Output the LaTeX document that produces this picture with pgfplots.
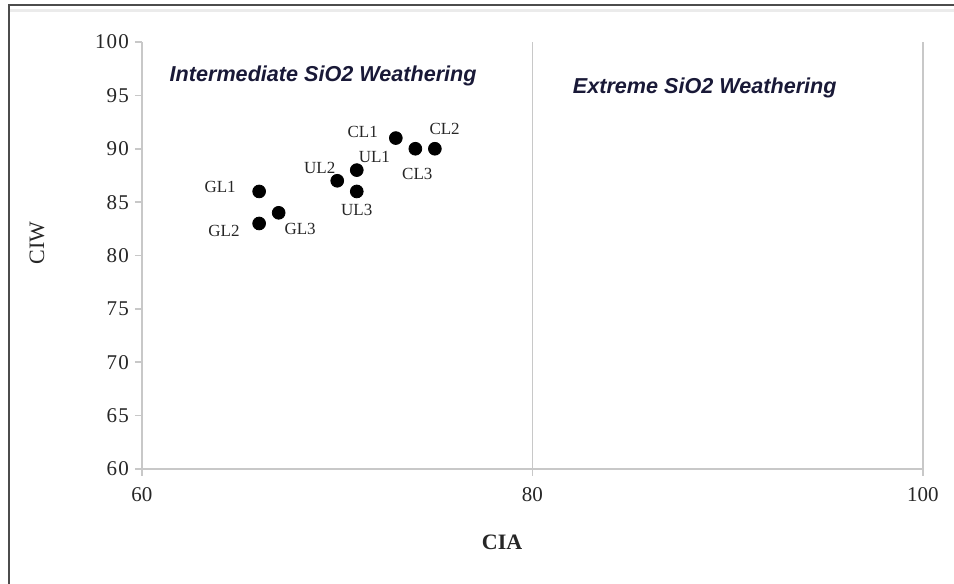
\documentclass[border=0pt]{standalone}
\usepackage{pgfplots}
\pgfplotsset{compat=1.18}
\usepackage{fontspec}
\setmainfont{Liberation Serif}
\setsansfont{Liberation Sans}
\definecolor{axgray}{RGB}{200,200,200}
\definecolor{ttl}{RGB}{25,25,55}
\begin{document}
\begin{tikzpicture}[x=0.5pt,y=0.5pt]
\path[use as bounding box] (0,0) rectangle (954,584);
\draw[black!70, line width=0.8pt] (9,0) -- (9,579) -- (954,579);
\draw[black!8, line width=1.5pt] (10,573) -- (954,573);
\begin{axis}[
  at={(71pt,57.5pt)}, anchor=south west,
  scale only axis, width=390.5pt, height=213.5pt,
  xmin=60, xmax=100, ymin=60, ymax=100,
  axis lines*=left,
  axis line style={draw=axgray, line width=0.8pt, -},
  xtick={60,80,100},
  ytick={60,65,70,75,80,85,90,95,100},
  yticklabels={6\hspace{0.6pt}0,6\hspace{0.6pt}5,7\hspace{0.6pt}0,7\hspace{0.6pt}5,8\hspace{0.6pt}0,8\hspace{0.6pt}5,9\hspace{0.6pt}0,9\hspace{0.6pt}5,1\hspace{0.6pt}0\hspace{0.6pt}0},
  xmajorgrids, grid style={draw=axgray, line width=0.8pt},
  tick style={draw=axgray, line width=0.8pt},
  tick align=outside, major tick length=3.5pt,
  /pgf/number format/assume math mode=true,
  ticklabel style={font=\fontsize{10.5pt}{12pt}\selectfont, text=black!85},
  xticklabel style={yshift=-2pt},
  yticklabel style={xshift=0.5pt},
  clip=false,
]
\addplot[only marks, mark=*, mark size=3.2pt, mark options={fill=black, draw=black}] coordinates {
  (73,91) (75,90) (74,90)
  (71,88) (70,87) (71,86)
  (66,86) (66,83) (67,84)
};
\begin{scope}[every node/.style={font=\fontsize{8.5pt}{10pt}\selectfont, text=black!85, inner sep=0pt}]
\node at (axis cs:72.1,91.6) [anchor=east] {CL1};
\node at (axis cs:75.5,91.9) {CL2};
\node at (axis cs:74.1,87.6) {CL3};
\node at (axis cs:71.9,89.2) {UL1};
\node at (axis cs:69.1,88.2) {UL2};
\node at (axis cs:71.0,84.3) {UL3};
\node at (axis cs:64.0,86.4) {GL1};
\node at (axis cs:64.2,82.3) {GL2};
\node at (axis cs:68.1,82.5) {GL3};
\end{scope}
\node[anchor=west, inner sep=0pt, text=ttl, font=\sffamily\bfseries\itshape\fontsize{10.8pt}{12pt}\selectfont] at (axis cs:61.4,96.8) {Intermediate SiO2 Weathering};
\node[anchor=west, inner sep=0pt, text=ttl, font=\sffamily\bfseries\itshape\fontsize{10.8pt}{12pt}\selectfont] at (axis cs:82.05,95.7) {Extreme SiO2 Weathering};
\node[font=\bfseries\fontsize{11pt}{13pt}\selectfont, text=black!85] at (axis description cs:0.461,0) [yshift=-36.5pt] {CIA};
\node[font=\fontsize{11pt}{13pt}\selectfont, text=black!85, rotate=90] at (rel axis cs:-0.1345,0.529) {CIW};
\end{axis}
\end{tikzpicture}
\end{document}
